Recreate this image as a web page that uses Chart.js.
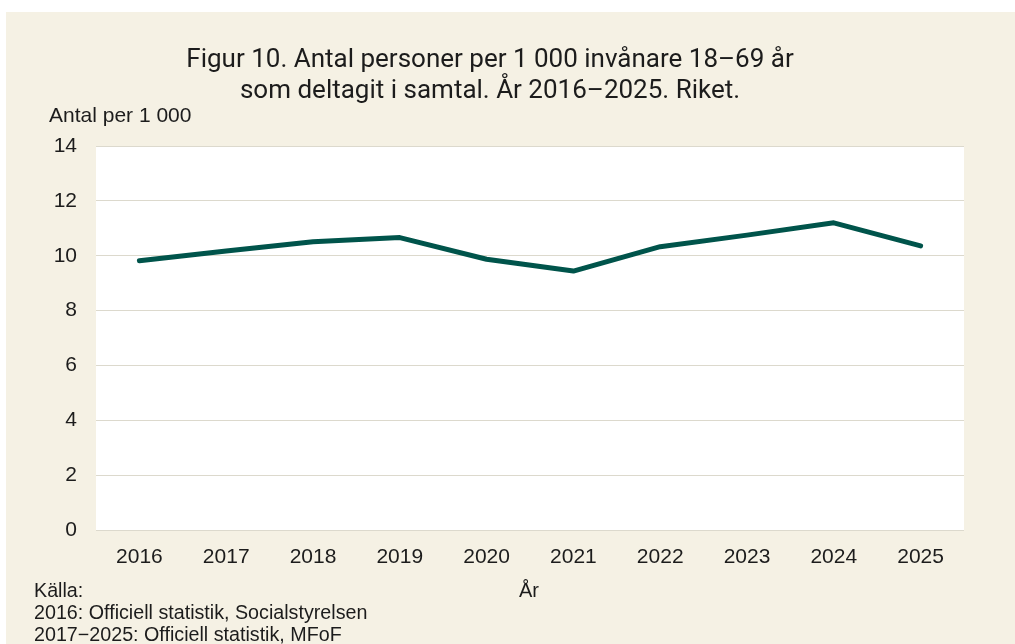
<!DOCTYPE html>
<html lang="sv">
<head>
<meta charset="utf-8">
<script src="https://cdn.jsdelivr.net/npm/chart.js@4"></script>
<style>
  html, body { margin: 0; padding: 0; background: #fff; }
  canvas { display: block; }
</style>
</head>
<body>
<canvas id="myChart" width="1015" height="644"></canvas>
<script>
// data
const years = ['2016', '2017', '2018', '2019', '2020', '2021', '2022', '2023', '2024', '2025'];
const perThousand = [9.82, 10.17, 10.51, 10.66, 9.87, 9.44, 10.33, 10.75, 11.2, 10.36];
const yTicks = [0, 2, 4, 6, 8, 10, 12, 14];

const titleLines = ['Figur 10. Antal personer per 1 000 invånare 18\u201369 år', 'som deltagit i samtal. År 2016\u20132025. Riket.'];
const yTitle = 'Antal per 1 000';
const xTitle = 'År';
const sourceLines = ['Källa:', '2016: Officiell statistik, Socialstyrelsen', '2017\u22122025: Officiell statistik, MFoF'];

const beige = '#f5f1e4';
const ink = '#1c1c1c';

// background + all free text
const decor = {
  id: 'decor',
  beforeDraw(chart) {
    const ctx = chart.ctx;
    const a = chart.chartArea;
    ctx.save();
    ctx.fillStyle = '#fff';
    ctx.fillRect(0, 0, chart.width, chart.height);
    ctx.fillStyle = beige;
    ctx.fillRect(6, 12, chart.width - 6, chart.height - 12);
    ctx.fillStyle = '#fff';
    ctx.fillRect(a.left, a.top, a.right - a.left, a.bottom - a.top);
    ctx.restore();
  },
  afterDraw(chart) {
    const ctx = chart.ctx;
    ctx.save();
    ctx.fillStyle = ink;
    ctx.textBaseline = 'alphabetic';

    ctx.font = '26px Roboto';
    ctx.textAlign = 'center';
    ctx.fillText(titleLines[0], 490, 67);
    ctx.fillText(titleLines[1], 490, 98);

    ctx.font = '21px "Liberation Sans"';
    ctx.textAlign = 'left';
    ctx.fillText(yTitle, 49, 122);

    ctx.font = '20px "Liberation Sans"';
    ctx.textAlign = 'center';
    ctx.fillText(xTitle, 529, 597);

    ctx.font = '19.7px "Liberation Sans"';
    ctx.textAlign = 'left';
    sourceLines.forEach((s, i) => ctx.fillText(s, 34, 597 + i * 22));
    ctx.restore();
  }
};

const ctx = document.getElementById('myChart').getContext('2d');
const myChart = new Chart(ctx, {
  type: 'line',
  data: {
    labels: years,
    datasets: [{
      data: perThousand,
      borderColor: '#00544b',
      borderWidth: 5,
      borderCapStyle: 'round',
      borderJoinStyle: 'round',
      pointRadius: 0,
      tension: 0,
      fill: false,
    }],
  },
  options: {
    responsive: false,
    animation: false,
    events: [],
    layout: { padding: { left: 36, right: 51, top: 146, bottom: 74 } },
    plugins: {
      legend: { display: false },
      title: { display: false },
      tooltip: { enabled: false },
    },
    scales: {
      x: {
        offset: true,
        grid: { display: false },
        border: { display: false },
        ticks: { color: ink, padding: 7, font: { family: 'Liberation Sans', size: 21 }, maxRotation: 0 },
        afterFit(scale) { scale.height = 40; },
      },
      y: {
        min: 0,
        max: 14,
        afterBuildTicks(scale) { scale.ticks = yTicks.map(v => ({ value: v })); },
        grid: { color: '#dcd9cd', lineWidth: 1, drawTicks: false },
        border: { display: false },
        ticks: { color: ink, padding: 19, font: { family: 'Liberation Sans', size: 21 } },
        afterFit(scale) { scale.width = 60; },
      },
    },
  },
  plugins: [decor],
});
</script>
</body>
</html>
